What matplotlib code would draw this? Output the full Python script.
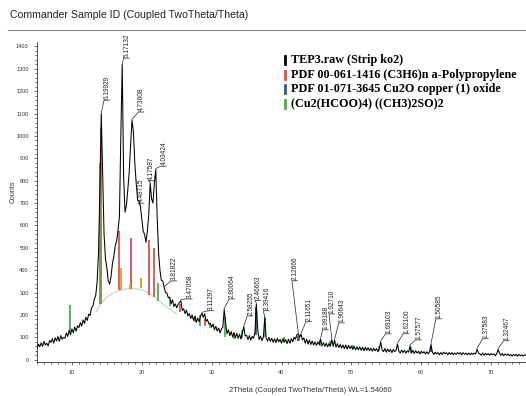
import numpy as np
import matplotlib.pyplot as plt

# XRD scan, 2theta step 0.2 deg, counts
two_theta = np.round(np.arange(5.0, 75.01, 0.2), 1)
counts = [
    52, 70, 58, 76, 60, 82, 66, 74, 62, 86,            # 5
    78, 94, 74, 98, 84, 104, 82, 108, 92, 100,         # 7
    96, 120, 104, 132, 112, 138, 120, 146, 128, 152,   # 9
    144, 166, 150, 178, 162, 190, 176, 204, 198, 232,  # 11
    240, 270, 286, 345, 470, 760, 1100, 820, 560, 450, # 13
    410, 352, 338, 372, 430, 462, 510, 530, 580, 640,  # 15
    1000, 1320, 820, 660, 690, 760, 840, 960, 1070, 1020,  # 17
    880, 790, 715, 710, 685, 630, 575, 560, 525, 575,  # 19
    650, 790, 720, 700, 790, 850, 640, 480, 400, 355,  # 21
    352, 324, 300, 298, 276, 280, 250, 268, 238, 250,  # 23
    232, 248, 256, 264, 220, 228, 206, 222, 196, 206,  # 25
    184, 200, 176, 194, 168, 186, 170, 194, 208, 190,  # 27
    206, 172, 180, 160, 164, 146, 160, 134, 150, 128,  # 29
    142, 120, 138, 145, 225, 165, 116, 134, 108, 126,  # 31
    102, 122, 98, 118, 96, 114, 92, 120, 148, 106,     # 33
    110, 90, 108, 88, 104, 96, 122, 250, 135, 90,      # 35
    106, 86, 100, 188, 98, 84, 100, 82, 96, 78,        # 37
    94, 76, 96, 80, 92, 74, 94, 78, 90, 72,            # 39
    92, 74, 94, 80, 100, 92, 112, 116, 100, 114,       # 41
    88, 98, 74, 92, 70, 88, 68, 84, 66, 80,            # 43
    64, 80, 68, 93, 62, 76, 60, 74, 58, 72,            # 45
    62, 90, 60, 88, 56, 72, 54, 68, 52, 66,            # 47
    50, 66, 48, 64, 50, 62, 46, 60, 44, 58,            # 49
    44, 58, 42, 56, 40, 56, 42, 54, 40, 52,            # 51
    38, 52, 40, 50, 36, 48, 80, 44, 36, 50,            # 53
    34, 48, 36, 46, 32, 46, 36, 42, 70, 38,            # 55
    30, 44, 32, 42, 30, 40, 34, 62, 30, 42,            # 57
    28, 40, 30, 38, 26, 38, 30, 36, 26, 36,            # 59
    26, 36, 68, 34, 24, 34, 26, 32, 22, 32,            # 61
    24, 34, 26, 32, 22, 32, 24, 32, 22, 30,            # 63
    24, 32, 26, 32, 22, 32, 24, 30, 22, 30,            # 65
    22, 30, 24, 30, 26, 48, 30, 26, 20, 30,            # 67
    20, 28, 22, 28, 20, 28, 22, 26, 18, 26,            # 69
    46, 30, 20, 28, 18, 26, 20, 26, 18, 24,            # 71
    16, 24, 18, 24, 16, 24, 18, 22, 16, 22,            # 73
    20,
]

# amorphous background hump
bg_x = [13.5, 14.0, 15.0, 16.0, 17.0, 18.0, 19.0, 20.0, 21.0, 22.0, 23.0, 24.0, 25.0]
bg_y = [215, 245, 280, 300, 312, 318, 318, 312, 298, 275, 250, 225, 205]

# reference pattern sticks: position, bottom, top
pp_x = [14.1, 16.8, 18.5, 21.1, 21.8, 25.5, 27.6, 29.0, 42.5]
pp_lo = [250, 312, 318, 290, 280, 215, 170, 150, 85]
pp_hi = [1035, 575, 545, 535, 500, 250, 195, 185, 112]

cu2o_x = [36.4, 42.3, 61.4]
cu2o_lo = [112, 85, 35]
cu2o_hi = [237, 105, 60]

cuf_x = [9.7, 14.0, 22.3, 24.0, 28.4, 29.8, 31.9, 33.2, 34.4, 37.6, 40.4, 45.5, 47.0, 50.2, 53.9, 58.6]
cuf_lo = [125, 250, 262, 240, 150, 140, 103, 95, 98, 103, 80, 60, 55, 48, 40, 32]
cuf_hi = [245, 880, 345, 270, 200, 165, 192, 120, 134, 192, 100, 90, 85, 65, 60, 55]

mix_x = [17.0, 19.9, 18.3]
mix_lo = [312, 320, 318]
mix_hi = [410, 366, 340]
mix_c = ['#e39a3a', '#b3ad2a', '#d9a040']

# peak labels: d-spacing, peak 2theta, label 2theta, label counts
pk_text = ['6.19929', '5.17132', '4.73608', '4.48715', '4.17587', '4.03424',
           '3.81822', '3.47058', '3.11297', '2.80064', '2.58255', '2.46663',
           '2.39416', '2.12666', '2.11651', '1.99188', '1.92710', '1.90643',
           '1.69103', '1.62100', '1.57577', '1.50585', '1.37583', '1.32467']
pk_pos = [14.2, 17.2, 18.6, 19.8, 21.2, 22.0, 23.2, 25.6, 28.6, 31.8, 34.6, 36.4,
          37.6, 42.4, 42.8, 45.6, 47.2, 47.6, 54.2, 56.6, 58.4, 61.4, 68.0, 71.0]
lab_x = [15.1, 17.9, 20.0, 20.0, 21.4, 23.2, 24.7, 26.9, 30.0, 33.0, 35.6, 36.7,
         37.9, 42.0, 44.0, 46.4, 47.3, 48.7, 55.4, 57.9, 59.7, 62.6, 69.3, 72.3]
lab_y = [1160, 1348, 1107, 700, 800, 865, 352, 272, 219, 272, 196, 265,
         219, 353, 170, 134, 205, 165, 116, 116, 89, 183, 94, 85]

legend_text = ['TEP3.raw (Strip ko2)',
               'PDF 00-061-1416 (C3H6)n a-Polypropylene',
               'PDF 01-071-3645 Cu2O copper (1) oxide',
               '(Cu2(HCOO)4) ((CH3)2SO)2']
legend_col = ['black', '#d9534a', '#2f5d8a', '#4caf50']

plt.rcParams['font.family'] = ['Liberation Sans', 'DejaVu Sans']

W, H = 526, 396
fig = plt.figure(figsize=(W / 100, H / 100), dpi=100)
ax = fig.add_axes([37 / W, 1 - 362 / H, 1 - 37 / W, (362 - 42) / H])

ax.plot(bg_x, bg_y, color='#cfdccf', lw=1.0, zorder=1)
ax.vlines(pp_x, pp_lo, pp_hi, colors='#d9534a', lw=1.3, zorder=2)
ax.vlines(mix_x, mix_lo, mix_hi, colors=mix_c, lw=1.3, zorder=2)
ax.vlines(cuf_x, cuf_lo, cuf_hi, colors='#4caf50', lw=1.3, zorder=3)
ax.vlines(cu2o_x, cu2o_lo, cu2o_hi, colors='#2f5d8a', lw=1.3, zorder=3)
ax.plot(two_theta, counts, color='black', lw=0.75, zorder=4)

cnt = np.array(counts)
for t, p, lx, ly in zip(pk_text, pk_pos, lab_x, lab_y):
    pc = cnt[np.argmin(np.abs(two_theta - p))]
    ax.plot([p, lx - 0.5, lx + 0.3], [pc + 4, ly, ly], color='#222222', lw=0.5, zorder=5)
    ax.text(lx, ly + 5, t, rotation=90, ha='center', va='bottom',
            fontsize=4.7, color='#222222', zorder=5)

ax.set_xlim(5, 10 + (W - 72) / 7)
ax.set_ylim(-10, 1420)
ax.set_xticks(range(10, 80, 10))
ax.set_xticks(range(5, 76), minor=True)
ax.set_yticks(range(0, 1500, 100))
ax.set_yticks(range(0, 1420, 20), minor=True)
ax.tick_params(labelsize=4, length=2.5, width=0.5, colors='#333333')
ax.tick_params(which='minor', length=1.3, width=0.4)
for s in ['top', 'right']:
    ax.spines[s].set_visible(False)
for s in ['left', 'bottom']:
    ax.spines[s].set_linewidth(0.6)
    ax.spines[s].set_color('#333333')

fig.text(13 / W, 1 - 192 / H, 'Counts', rotation=90, ha='center', va='center',
         fontsize=5, color='#333333')
fig.text(310 / W, 1 - 390 / H, '2Theta (Coupled TwoTheta/Theta) WL=1.54060',
         ha='center', va='center', fontsize=5.5, color='#333333')
fig.text(10 / W, 1 - 15 / H, 'Commander Sample ID (Coupled TwoTheta/Theta)',
         ha='left', va='center', fontsize=7.6, color='#222222')
fig.add_artist(plt.Line2D([8 / W, 1.0], [1 - 30 / H, 1 - 30 / H],
                          transform=fig.transFigure, color='#888888', lw=0.8))

for i, (t, c) in enumerate(zip(legend_text, legend_col)):
    yy = 1 - (60 + 14.7 * i) / H
    fig.add_artist(plt.Line2D([285 / W, 285 / W], [yy - 4 / H, yy + 4 / H],
                              transform=fig.transFigure, color=c, lw=2))
    fig.text(291 / W, yy, t, ha='left', va='center', fontsize=8.7,
             fontweight='bold', family='Liberation Serif', color='black')

fig.savefig('out.png', dpi=100)
